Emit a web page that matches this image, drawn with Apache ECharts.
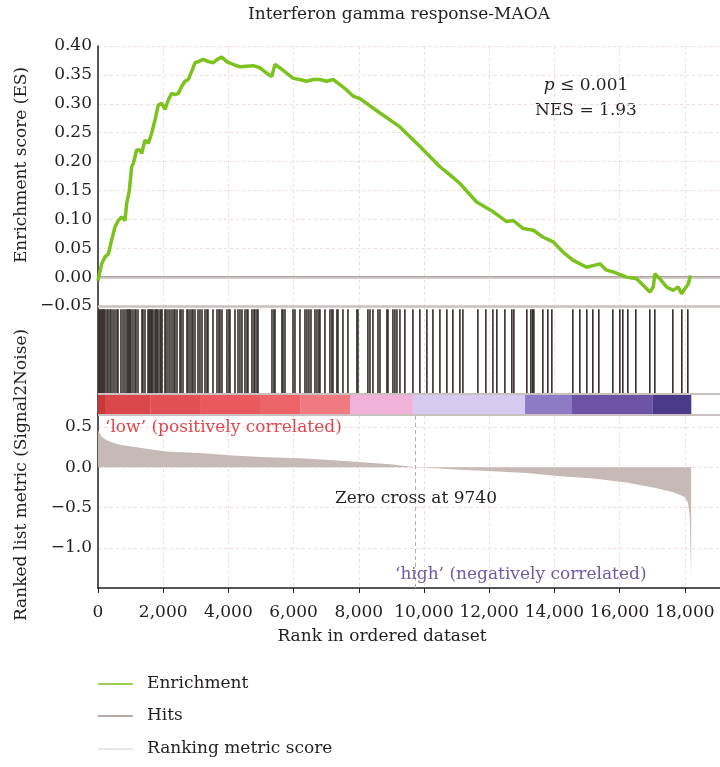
<!DOCTYPE html>
<html><head><meta charset="utf-8">
<script src="https://cdn.jsdelivr.net/npm/echarts@6/dist/echarts.min.js"></script>
<style>html,body{margin:0;padding:0;background:#fff}#c{width:720px;height:767px}</style>
</head><body><div id="c"></div>
<script>
const chartTitle = 'Interferon gamma response-MAOA';
const xLabel = 'Rank in ordered dataset';
const esAxisName = 'Enrichment score (ES)';
const metricAxisName = 'Ranked list metric (Signal2Noise)';
const pValueText = '≤ 0.001';
const nesText = 'NES = 1.93';
const lowText = '\u2018low\u2019 (positively correlated)';
const highText = '\u2018high\u2019 (negatively correlated)';
const zeroCross = 9740;
const zeroCrossText = 'Zero cross at 9740';
const legendNames = ['Enrichment', 'Hits', 'Ranking metric score'];

const esPoints = [
[0,-0.006],[31,-0.004],[113,0.023],[215,0.035],[317,0.040],[419,0.064],[521,0.087],[624,0.098],[726,0.104],[828,0.098],[879,0.127],[961,0.150],[1033,0.191],[1084,0.197],[1186,0.220],[1288,0.220],[1339,0.214],[1441,0.237],[1544,0.232],[1646,0.249],[1748,0.272],[1851,0.298],[1953,0.301],[2055,0.290],[2157,0.307],[2260,0.318],[2362,0.316],[2464,0.318],[2566,0.330],[2668,0.339],[2771,0.342],[2873,0.356],[2975,0.371],[3077,0.373],[3230,0.377],[3384,0.373],[3537,0.371],[3639,0.376],[3792,0.381],[3946,0.373],[4151,0.368],[4355,0.364],[4560,0.365],[4765,0.366],[4968,0.362],[5173,0.353],[5327,0.347],[5429,0.368],[5582,0.362],[5787,0.353],[5991,0.344],[6195,0.342],[6400,0.339],[6604,0.342],[6809,0.342],[7013,0.339],[7217,0.342],[7422,0.333],[7626,0.324],[7831,0.313],[8035,0.309],[8649,0.284],[9262,0.260],[9876,0.226],[10489,0.191],[10796,0.177],[11102,0.162],[11614,0.130],[12124,0.113],[12535,0.096],[12737,0.098],[13044,0.084],[13351,0.081],[13657,0.069],[13964,0.061],[14271,0.043],[14578,0.029],[14988,0.017],[15396,0.023],[15600,0.012],[15804,0.009],[16214,0.000],[16521,-0.003],[16724,-0.014],[16930,-0.026],[17032,-0.017],[17083,0.006],[17236,-0.003],[17441,-0.017],[17645,-0.023],[17799,-0.017],[17901,-0.029],[18003,-0.020],[18104,-0.012],[18178,0.003]
];

const hitRanks = [
31,61,92,123,153,184,215,276,307,368,399,460,521,583,613,705,767,828,889,920,951,981,1012,1073,1135,1165,1227,1349,1380,1441,1534,1564,1595,1626,1656,1687,1748,1779,1810,1840,1902,1932,1963,2055,2086,2147,2208,2270,2331,2362,2423,2515,2546,2607,2730,2760,2822,2883,2914,2975,3067,3128,3190,3282,3343,3374,3527,3650,3711,3742,3803,3956,4018,4048,4202,4294,4355,4416,4508,4570,4600,4723,4785,4815,4877,4907,5337,5398,5429,5643,5674,5735,5981,6042,6195,6349,6410,6471,6533,6655,6717,6778,6809,6962,7115,7177,7207,7330,7361,7514,7667,7943,7974,8280,8342,8434,8588,8649,8863,8894,9047,9108,9170,9262,
9414,9660,9874,10089,10273,10488,10702,10886,11101,11193,11653,11898,12113,12235,12481,12695,12757,13155,13278,13330,13370,13646,13799,13922,14566,14781,14995,15179,15363,15793,16007,16099,16253,16498,16927,17081,17633,17909,18093
];

const metricPoints = [
[0,0.46],[31,0.44],[113,0.38],[250,0.34],[368,0.32],[500,0.30],[675,0.28],[1084,0.256],[1595,0.224],[2106,0.197],[3128,0.177],[4150,0.146],[5173,0.126],[6195,0.114],[7217,0.087],[8035,0.067],[8649,0.047],[9050,0.035],[9740,0],[10500,-0.015],[11100,-0.03],[12124,-0.05],[13150,-0.07],[14170,-0.11],[15190,-0.14],[16210,-0.19],[17030,-0.25],[17650,-0.31],[18000,-0.37],[18100,-0.44],[18150,-0.6],[18190,-1.31],[18195,-1.37]
];

const colorBreaks = [0, 215, 1600, 3130, 4970, 6200, 7730, 9660, 13100, 14540, 17020, 18200];
const colorBarColors = ['#c8383a','#d9474a','#e05054','#e85a5e','#ec6468','#f07a80','#f0b2d8','#d8c9ef','#8e7bc6','#6d53a6','#4b3989'];

const xMax = 19080;
const FF = '"DejaVu Serif", serif';
const FS = 17;
const TXT = '#231f20';
const GRID_C = '#efdcdc';

const colorSegments = colorBarColors.map((c, i) => [colorBreaks[i], colorBreaks[i + 1], i]);

const chart = echarts.init(document.getElementById('c'));
const dashed = { show: true, lineStyle: { type: [3, 3], color: GRID_C, width: 1 } };
const fmtX = v => (v % 2000 === 0 ? v.toLocaleString('en-US') : '');
const fmtNum = (v, d) => (v < 0 ? '\u2212' : '') + Math.abs(v).toFixed(d);

chart.setOption({
  animation: false,
  grid: [
    { left: 98, right: 0, top: 46, height: 260 },
    { left: 98, right: 0, top: 307, height: 108 },
    { left: 98, right: 0, top: 415, height: 173 }
  ],
  xAxis: [
    { gridIndex: 0, type: 'value', min: 0, max: xMax, interval: 2000, position: 'top',
      axisLine: { show: true, lineStyle: { color: '#231f20', width: 1.5 } },
      axisTick: { show: false }, axisLabel: { show: false }, splitLine: dashed },
    { gridIndex: 1, type: 'value', min: 0, max: xMax, interval: 2000,
      axisLine: { show: false }, axisTick: { show: false }, axisLabel: { show: false }, splitLine: dashed },
    { gridIndex: 2, type: 'value', min: 0, max: xMax, interval: 2000,
      axisLine: { show: true, onZero: false, lineStyle: { color: '#231f20', width: 1.5 } },
      axisTick: { show: true, length: 5, lineStyle: { color: '#231f20' } },
      axisLabel: { show: true, margin: 16, fontFamily: FF, fontSize: FS, color: TXT, formatter: fmtX, showMaxLabel: false },
      splitLine: dashed }
  ],
  yAxis: [
    { gridIndex: 0, type: 'value', min: -0.05, max: 0.40, interval: 0.05,
      axisLine: { show: true, lineStyle: { color: '#231f20', width: 1.5 } },
      axisTick: { show: false },
      axisLabel: { margin: 6, fontFamily: FF, fontSize: FS, color: TXT, formatter: v => fmtNum(v, 2) },
      splitLine: dashed },
    { gridIndex: 1, type: 'value', min: 0, max: 1,
      axisLine: { show: true, lineStyle: { color: '#231f20', width: 1.5 } },
      axisTick: { show: false }, axisLabel: { show: false }, splitLine: { show: false } },
    { gridIndex: 2, type: 'value', min: -1.5, max: 0.65, interval: 0.5,
      axisLine: { show: true, onZero: false, lineStyle: { color: '#231f20', width: 1.5 } },
      axisTick: { show: false },
      axisLabel: { margin: 6, fontFamily: FF, fontSize: FS, color: TXT,
        formatter: v => (v > -1.25 && v < 0.6 ? fmtNum(v, 1) : '') },
      splitLine: dashed }
  ],
  series: [
    { type: 'line', xAxisIndex: 0, yAxisIndex: 0, data: esPoints, symbol: 'none', z: 5,
      lineStyle: { color: '#7cc21e', width: 3.5 },
      markLine: { silent: true, symbol: ['none', 'none'], label: { show: false },
        lineStyle: { color: '#cbbfbf', width: 2.5, type: 'solid' },
        data: [{ yAxis: 0 }, { yAxis: -0.05 }] } },
    { type: 'line', xAxisIndex: 1, yAxisIndex: 1, data: [], symbol: 'none', z: 1,
      markLine: { silent: true, symbol: ['none', 'none'], label: { show: false },
        lineStyle: { color: '#cbbfbf', width: 2, type: 'solid' },
        data: [{ yAxis: 0.195 }, { yAxis: 0 }] } },
    { type: 'custom', xAxisIndex: 1, yAxisIndex: 1, z: 3, data: colorSegments,
      encode: { x: [0, 1] },
      renderItem: (params, api) => {
        const p0 = api.coord([api.value(0), 0.195]);
        const p1 = api.coord([api.value(1), 0]);
        return { type: 'rect', shape: { x: p0[0], y: p0[1], width: p1[0] - p0[0], height: p1[1] - p0[1] },
          style: { fill: colorBarColors[api.value(2)] } };
      } },
    { type: 'custom', xAxisIndex: 1, yAxisIndex: 1, z: 4, data: hitRanks.map(r => [r]),
      encode: { x: 0 },
      renderItem: (params, api) => {
        const p0 = api.coord([api.value(0), 0.98]);
        const p1 = api.coord([api.value(0), 0.195]);
        return { type: 'line', shape: { x1: p0[0], y1: p0[1], x2: p1[0], y2: p1[1] },
          style: { stroke: '#352d2b', lineWidth: 1.6 } };
      } },
    { type: 'line', xAxisIndex: 2, yAxisIndex: 2, data: metricPoints, symbol: 'none', z: 3,
      lineStyle: { width: 0 }, areaStyle: { color: '#c6bab6', opacity: 1, origin: 0 },
      markLine: { silent: true, symbol: ['none', 'none'], label: { show: false },
        lineStyle: { color: '#b5acac', width: 1, type: [4, 3] },
        data: [{ xAxis: zeroCross }] } }
  ],
  graphic: [
    { type: 'text', x: 399, y: 15, style: { text: chartTitle, font: `${FS}px ${FF}`, fill: TXT, textAlign: 'center', textVerticalAlign: 'middle' } },
    { type: 'text', x: 586, y: 86, style: { text: '{i|p} ' + pValueText, font: `${FS}px ${FF}`, fill: TXT, textAlign: 'center', textVerticalAlign: 'middle',
        rich: { i: { fontStyle: 'italic', fontFamily: FF, fontSize: FS, fill: TXT } } } },
    { type: 'text', x: 586, y: 111, style: { text: nesText, font: `${FS}px ${FF}`, fill: TXT, textAlign: 'center', textVerticalAlign: 'middle' } },
    { type: 'text', x: 22, y: 165, rotation: Math.PI / 2, style: { text: esAxisName, font: `${FS}px ${FF}`, fill: TXT, textAlign: 'center', textVerticalAlign: 'middle' } },
    { type: 'text', x: 22, y: 475, rotation: Math.PI / 2, style: { text: metricAxisName, font: `${FS}px ${FF}`, fill: TXT, textAlign: 'center', textVerticalAlign: 'middle' } },
    { type: 'text', x: 105, y: 428, z: 10, style: { text: lowText, font: `${FS}px ${FF}`, fill: '#e0474c', textAlign: 'left', textVerticalAlign: 'middle' } },
    { type: 'text', x: 335, y: 499, z: 10, style: { text: zeroCrossText, font: `${FS}px ${FF}`, fill: TXT, textAlign: 'left', textVerticalAlign: 'middle' } },
    { type: 'text', x: 395, y: 575, z: 10, style: { text: highText, font: `${FS}px ${FF}`, fill: '#6e5aa8', textAlign: 'left', textVerticalAlign: 'middle' } },
    { type: 'text', x: 382, y: 637, style: { text: xLabel, font: `${FS}px ${FF}`, fill: TXT, textAlign: 'center', textVerticalAlign: 'middle' } },
    { type: 'line', shape: { x1: 98, y1: 684, x2: 133, y2: 684 }, style: { stroke: '#7cc21e', lineWidth: 1.5 } },
    { type: 'line', shape: { x1: 98, y1: 716, x2: 133, y2: 716 }, style: { stroke: '#9a908d', lineWidth: 1.5 } },
    { type: 'line', shape: { x1: 98, y1: 749, x2: 133, y2: 749 }, style: { stroke: '#e6dcdc', lineWidth: 1.5 } },
    { type: 'text', x: 147, y: 684, style: { text: legendNames[0], font: `${FS}px ${FF}`, fill: TXT, textAlign: 'left', textVerticalAlign: 'middle' } },
    { type: 'text', x: 147, y: 716, style: { text: legendNames[1], font: `${FS}px ${FF}`, fill: TXT, textAlign: 'left', textVerticalAlign: 'middle' } },
    { type: 'text', x: 147, y: 749, style: { text: legendNames[2], font: `${FS}px ${FF}`, fill: TXT, textAlign: 'left', textVerticalAlign: 'middle' } }
  ]
});
</script></body></html>
